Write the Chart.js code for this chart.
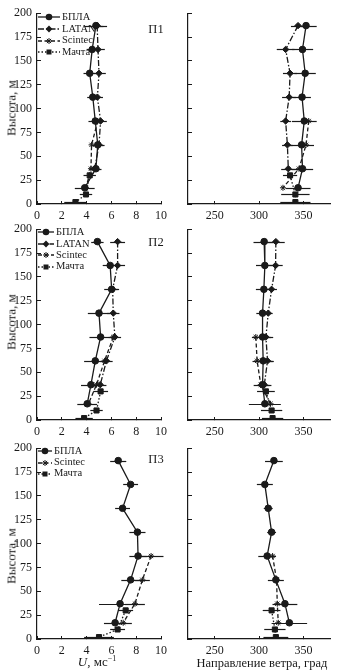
<!DOCTYPE html>
<html><head><meta charset="utf-8">
<script src="https://cdn.jsdelivr.net/npm/chart.js@4"></script>
<style>
html,body{margin:0;padding:0;background:#fff;}
body{width:340px;height:672px;position:relative;overflow:hidden;font-family:"Liberation Serif","Times New Roman",serif;color:#1a1a1a;}
canvas{position:absolute;}
.t{position:absolute;white-space:nowrap;line-height:1;}
.leg{position:absolute;display:flex;align-items:center;font-size:10.5px;line-height:1;white-space:nowrap;}
.leg svg{display:block;margin-right:2px;}
</style></head><body>
<script>
// ---------- DATA ----------
// heights, m
const H_UAV     = [187, 162, 137, 112, 87, 62, 37, 17];
const H_LATAN   = [187, 162, 137, 112, 87, 62, 37];
const H_SCINTEC = [87, 62, 37, 17];
const H_MAST    = [30, 10, 2];

// tick values
const Y_TICKS     = [0, 25, 50, 75, 100, 125, 150, 175, 200];
const U_TICKS     = [0, 2, 4, 6, 8, 10];
const DIR_TICKS   = [250, 300, 350];

// П1: wind speed U, m/s
const P1_U_UAV       = [4.75, 4.45, 4.25, 4.5, 4.7, 4.9, 4.75, 3.85];
const P1_U_UAV_ERR   = [0.9, 0.45, 0.5, 0.45, 0.55, 0.45, 0.45, 0.8];
const P1_U_LATAN     = [4.85, 4.92, 5.0, 4.87, 5.13, 5.0, 4.65];
const P1_U_LATAN_ERR = [0.5, 0.55, 0.55, 0.45, 0.5, 0.45, 0.45];
const P1_U_SCINTEC   = [4.9, 4.4, 4.35, 3.95];
const P1_U_MAST      = [4.25, 3.95, 3.1];
const P1_U_MAST_ERR  = [0.5, 0.5, 0.9];
// П1: wind direction, deg
const P1_D_UAV       = [353, 349, 352, 348.5, 351, 348, 349, 344];
const P1_D_UAV_ERR   = [12, 12, 12, 10, 14, 14, 12, 14];
const P1_D_LATAN     = [344, 330, 335, 334, 330, 332, 333];
const P1_D_LATAN_ERR = [8, 10, 8, 8, 6, 6, 8];
const P1_D_SCINTEC   = [356, 353, 345, 327];
const P1_D_MAST      = [335, 341, 341];
const P1_D_MAST_ERR  = [8, 16, 17];

// П2: wind speed
const P2_U_UAV       = [4.87, 5.9, 6.02, 5.0, 5.13, 4.7, 4.35, 4.05];
const P2_U_UAV_ERR   = [0.5, 0.6, 0.6, 0.9, 0.9, 0.9, 0.8, 0.8];
const P2_U_LATAN     = [6.5, 6.5, 6.1, 6.15, 6.28, 5.6, 5.1];
const P2_U_LATAN_ERR = [0.6, 0.6, 0.4, 0.5, 0.5, 0.5, 0.5];
const P2_U_SCINTEC   = [6.15, 5.45, 4.8, 4.15];
const P2_U_MAST      = [5.13, 4.8, 3.8];
const P2_U_MAST_ERR  = [0.6, 0.5, 0.7];
// П2: wind direction
const P2_D_UAV       = [305.8, 306.6, 305.5, 304, 304, 304.7, 304, 306.6];
const P2_D_UAV_ERR   = [12, 10, 9, 7, 12, 12, 10, 18];
const P2_D_LATAN     = [319, 318.7, 314.2, 310.4, 307.8, 309.6, 306];
const P2_D_LATAN_ERR = [10, 8, 6, 5, 6, 6, 6];
const P2_D_SCINTEC   = [296.4, 297.9, 302, 313];
const P2_D_MAST      = [307.8, 314.2, 315.3];
const P2_D_MAST_ERR  = [10, 12, 12];

// П3: wind speed
const P3_U_UAV         = [6.55, 7.55, 6.9, 8.1, 8.15, 7.55, 6.7, 6.3];
const P3_U_UAV_ERR     = [0.65, 0.6, 0.6, 0.65, 0.7, 0.75, 1.7, 0.9];
const P3_U_SCINTEC     = [9.2, 8.5, 7.9, 6.95];
const P3_U_SCINTEC_ERR = [1.0, 0.6, 0.8, 0.7];
const P3_U_MAST        = [7.15, 6.5, 5.0];
const P3_U_MAST_ERR    = [0.6, 0.6, 1.2];
// П3: wind direction
const P3_D_UAV       = [316.8, 306.6, 310.4, 314.2, 309.2, 319, 329.2, 334.2];
const P3_D_UAV_ERR   = [10, 9, 5, 5, 10, 9, 14, 20];
const P3_D_SCINTEC   = [315.3, 319.8, 320.6, 321.7];
const P3_D_MAST      = [314.2, 317.9, 319];
const P3_D_MAST_ERR  = [10, 12, 14];

// ---------- STYLE ----------
const INK = '#1a1a1a';
const FONT_FAMILY = '"Liberation Serif","Times New Roman",serif';
const STYLE = {
  uav:     {label:'БПЛА',    dash:[],           point:'circle',  r:3.3},
  latan:   {label:'LATAN',   dash:[6,2,1.5,2],  point:'rectRot', r:3.2},
  scintec: {label:'Scintec', dash:[4,2.5],      point:'star',    r:3},
  mast:    {label:'Мачта',   dash:[1.5,2],      point:'rect',    r:3.6}
};

function ds(key, xs, hs, errs) {
  const s = STYLE[key];
  return {
    label: s.label,
    data: xs.map((v, i) => ({x: v, y: hs[i]})),
    errors: errs || null,
    showLine: true,
    borderColor: INK, backgroundColor: INK,
    borderWidth: 1.3, borderDash: s.dash,
    pointStyle: s.point, pointRadius: s.r, pointBorderWidth: 1,
    pointBackgroundColor: INK, pointBorderColor: INK,
    tension: 0
  };
}

const errorBars = {
  id: 'errorBars',
  beforeDatasetsDraw(chart) {
    const {ctx, scales: {x, y}} = chart;
    ctx.save();
    ctx.strokeStyle = INK;
    ctx.lineWidth = 1.2;
    chart.data.datasets.forEach(d => {
      if (!d.errors) return;
      d.data.forEach((p, i) => {
        const e = d.errors[i];
        if (!e) return;
        const py = Math.round(y.getPixelForValue(p.y)) + 0.5;
        ctx.beginPath();
        ctx.moveTo(x.getPixelForValue(p.x - e), py);
        ctx.lineTo(x.getPixelForValue(p.x + e), py);
        ctx.stroke();
      });
    });
    ctx.restore();
  }
};

const PLOT_H = 197;
const PAD_TOP = 10;
const X_AXIS_H = 24;

function makeChart(left, top, width, yWidth, padRight, xmin, xmax, xTicks, yLabels, datasets) {
  const c = document.createElement('canvas');
  const height = PAD_TOP + PLOT_H + X_AXIS_H;
  c.width = width; c.height = height;
  c.style.left = left + 'px'; c.style.top = (top - PAD_TOP) + 'px';
  c.style.width = width + 'px'; c.style.height = height + 'px';
  document.body.appendChild(c);
  const tickFont = {family: FONT_FAMILY, size: 12};
  new Chart(c, {
    type: 'scatter',
    data: {datasets},
    plugins: [errorBars],
    options: {
      responsive: false, animation: false, devicePixelRatio: 1,
      layout: {padding: {top: PAD_TOP, right: padRight, left: 0, bottom: 0}},
      plugins: {legend: {display: false}, tooltip: {enabled: false}},
      scales: {
        x: {
          type: 'linear', min: xmin, max: xmax,
          afterBuildTicks: s => { s.ticks = xTicks.map(v => ({value: v})); },
          afterFit: s => { s.height = X_AXIS_H; },
          ticks: {autoSkip: false, maxRotation: 0, minRotation: 0, padding: 8, font: tickFont, color: INK},
          grid: {drawOnChartArea: false, drawTicks: true, tickLength: -3, color: INK, lineWidth: 1},
          border: {display: true, color: INK, width: 1.2}
        },
        y: {
          type: 'linear', min: 0, max: 200,
          afterBuildTicks: s => { s.ticks = Y_TICKS.map(v => ({value: v})); },
          afterFit: s => { s.width = yWidth; },
          ticks: {autoSkip: false, padding: 9, font: tickFont, color: INK,
                  callback: v => yLabels ? String(v) : ''},
          grid: {drawOnChartArea: false, drawTicks: true, tickLength: -4, color: INK, lineWidth: 1},
          border: {display: true, color: INK, width: 1.2}
        }
      }
    }
  });
}

function markerSvg(key, cx, cy) {
  const s = STYLE[key];
  if (s.point === 'circle') return `<circle cx="${cx}" cy="${cy}" r="3.3" fill="${INK}"/>`;
  if (s.point === 'rectRot') return `<polygon points="${cx},${cy-3.4} ${cx+3.4},${cy} ${cx},${cy+3.4} ${cx-3.4},${cy}" fill="${INK}"/>`;
  if (s.point === 'rect') return `<rect x="${cx-2.5}" y="${cy-2.5}" width="5" height="5" fill="${INK}"/>`;
  const r = 3;
  return `<path d="M${cx-r},${cy}H${cx+r}M${cx},${cy-r}V${cy+r}M${cx-2.1},${cy-2.1}L${cx+2.1},${cy+2.1}M${cx-2.1},${cy+2.1}L${cx+2.1},${cy-2.1}" stroke="${INK}" stroke-width="1"/>`;
}

function addLegend(keys, left, svgW, rows) {
  keys.forEach((k, i) => {
    const s = STYLE[k];
    const d = document.createElement('div');
    d.className = 'leg';
    d.style.left = left + 'px';
    d.style.top = (rows[i] - 6) + 'px';
    d.style.height = '12px';
    const dash = s.dash.length ? `stroke-dasharray="${s.dash.join(' ')}"` : '';
    d.innerHTML = `<svg width="${svgW}" height="10" viewBox="0 0 ${svgW} 10"><line x1="0" y1="5" x2="${svgW}" y2="5" stroke="${INK}" stroke-width="1.3" ${dash}/>${markerSvg(k, svgW/2, 5)}</svg><span>${s.label}</span>`;
    document.body.appendChild(d);
  });
}

function addText(html, cx, cy, size, rotate) {
  const d = document.createElement('div');
  d.className = 't';
  d.style.left = cx + 'px';
  d.style.top = cy + 'px';
  d.style.fontSize = size + 'px';
  d.style.transform = 'translate(-50%,-50%)' + (rotate ? ' rotate(-90deg)' : '');
  d.innerHTML = html;
  document.body.appendChild(d);
}

// ---------- PANELS ----------
const PANELS = [
  {top: 7, name: 'П1', nameY: 29, ytitle: 108,
   speed: [ds('uav', P1_U_UAV, H_UAV, P1_U_UAV_ERR), ds('latan', P1_U_LATAN, H_LATAN, P1_U_LATAN_ERR),
           ds('scintec', P1_U_SCINTEC, H_SCINTEC), ds('mast', P1_U_MAST, H_MAST, P1_U_MAST_ERR)],
   dir:   [ds('uav', P1_D_UAV, H_UAV, P1_D_UAV_ERR), ds('latan', P1_D_LATAN, H_LATAN, P1_D_LATAN_ERR),
           ds('scintec', P1_D_SCINTEC, H_SCINTEC), ds('mast', P1_D_MAST, H_MAST, P1_D_MAST_ERR)],
   legend: ['uav', 'latan', 'scintec', 'mast'], legSvgW: 22, legRows: [17.3, 29, 40.5, 52]},
  {top: 223, name: 'П2', nameY: 242, ytitle: 322,
   speed: [ds('uav', P2_U_UAV, H_UAV, P2_U_UAV_ERR), ds('latan', P2_U_LATAN, H_LATAN, P2_U_LATAN_ERR),
           ds('scintec', P2_U_SCINTEC, H_SCINTEC), ds('mast', P2_U_MAST, H_MAST, P2_U_MAST_ERR)],
   dir:   [ds('uav', P2_D_UAV, H_UAV, P2_D_UAV_ERR), ds('latan', P2_D_LATAN, H_LATAN, P2_D_LATAN_ERR),
           ds('scintec', P2_D_SCINTEC, H_SCINTEC), ds('mast', P2_D_MAST, H_MAST, P2_D_MAST_ERR)],
   legend: ['uav', 'latan', 'scintec', 'mast'], legSvgW: 16, legRows: [232.3, 244, 255.3, 266.5]},
  {top: 442, name: 'П3', nameY: 459, ytitle: 556,
   speed: [ds('uav', P3_U_UAV, H_UAV, P3_U_UAV_ERR), ds('scintec', P3_U_SCINTEC, H_SCINTEC, P3_U_SCINTEC_ERR),
           ds('mast', P3_U_MAST, H_MAST, P3_U_MAST_ERR)],
   dir:   [ds('uav', P3_D_UAV, H_UAV, P3_D_UAV_ERR), ds('scintec', P3_D_SCINTEC, H_SCINTEC),
           ds('mast', P3_D_MAST, H_MAST, P3_D_MAST_ERR)],
   legend: ['uav', 'scintec', 'mast'], legSvgW: 14, legRows: [451, 462.5, 473.5]}
];

PANELS.forEach(p => {
  makeChart(0, p.top, 175, 37, 8, 0, 10, U_TICKS, true, p.speed);
  makeChart(170, p.top, 170, 18, 10, 220, 380, DIR_TICKS, false, p.dir);
  addLegend(p.legend, 38, p.legSvgW, p.legRows);
  addText(p.name, 156, p.nameY, 12.5, false);
  addText('Высота, м', 11, p.ytitle, 13, true);
});
addText('<i>U</i>, мс<sup style="font-size:8px;vertical-align:5px">−1</sup>', 97, 661, 13, false);
addText('Направление ветра, град', 262, 663, 12.5, false);
</script>
</body></html>
